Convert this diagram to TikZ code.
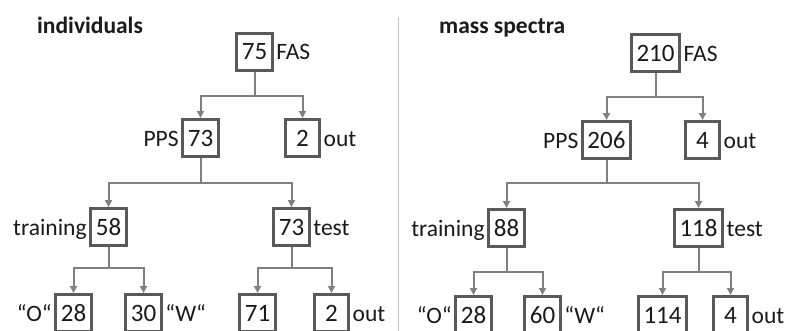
\documentclass[tikz,border=0pt]{standalone}
\usepackage{fontspec}
\setmainfont{Carlito}
\usetikzlibrary{arrows.meta}
\definecolor{boxgray}{HTML}{595959}
\definecolor{linegray}{HTML}{808080}
\definecolor{divgray}{HTML}{C4C4C4}
\definecolor{ink}{HTML}{1A1A1A}
\tikzset{
  x=1pt, y=-1pt,
  numbox/.style={draw=boxgray, line width=3pt, minimum height=37pt,
    minimum width=34pt, inner xsep=5pt, text=ink,
    font=\fontsize{25}{29}\selectfont},
  lbl/.style={inner sep=2.5pt, text=ink, font=\fontsize{23.5}{27}\selectfont},
  lblr/.style={lbl, anchor=base west},
  lbll/.style={lbl, anchor=base east},
  conn/.style={draw=linegray, line width=2pt,
    -{Triangle[width=7pt,length=7pt]}},
  stem/.style={draw=linegray, line width=2pt},
  divider/.style={draw=divgray, line width=1.5pt},
  heading/.style={anchor=base west, inner sep=0pt, text=ink,
    font=\fontsize{23.5}{27}\selectfont\bfseries}
}
\begin{document}
\begin{tikzpicture}
\useasboundingbox[fill=white] (0,0) rectangle (790,330);

% panel divider
\draw[divider] (398.5,17) -- (398.5,332);

% ---------- left panel: individuals ----------
\node[heading] (h1) at (37,33) {individuals};

\node[numbox] (fas1) at (254.5,52) {75};
\node[numbox] (pps1) at (200.5,138) {73};
\node[numbox] (out1) at (302.5,138) {2};
\node[numbox] (tr1)  at (108.5,227) {58};
\node[numbox] (te1)  at (291.5,227) {73};
\node[numbox] (o1)   at (73.5,313) {28};
\node[numbox] (w1)   at (143.5,313) {30};
\node[numbox] (a1)   at (257.5,313) {71};
\node[numbox] (b1)   at (331.5,313) {2};

\node[lblr] (fas1l) at (fas1.base east) {FAS};
\node[lbll] (pps1l) at (pps1.base west) {PPS};
\node[lblr] (out1l) at (out1.base east) {out};
\node[lbll] (tr1l)  at (tr1.base west) {training};
\node[lblr] (te1l)  at (te1.base east) {test};
\node[lbll] (o1l)   at (o1.base west) {“O“};
\node[lblr] (w1l)   at (w1.base east) {“W“};
\node[lblr] (b1l)   at (b1.base east) {out};

\coordinate (j1) at (fas1.south |- 0,96);
\coordinate (j2) at (pps1.south |- 0,183);
\coordinate (j3) at (tr1.south |- 0,268);
\coordinate (j4) at (te1.south |- 0,268);
\draw[stem] (fas1.south) -- (j1);
\draw[conn] (j1) -| (pps1.north);
\draw[conn] (j1) -| (out1.north);
\draw[stem] (pps1.south) -- (j2);
\draw[conn] (j2) -| (tr1.north);
\draw[conn] (j2) -| (te1.north);
\draw[stem] (tr1.south) -- (j3);
\draw[conn] (j3) -| (o1.north);
\draw[conn] (j3) -| (w1.north);
\draw[stem] (te1.south) -- (j4);
\draw[conn] (j4) -| (a1.north);
\draw[conn] (j4) -| (b1.north);

% ---------- right panel: mass spectra ----------
\node[heading] (h2) at (439,33) {mass spectra};

\node[numbox] (fas2) at (655.5,53) {210};
\node[numbox] (pps2) at (606.5,140) {206};
\node[numbox] (out2) at (702.5,140) {4};
\node[numbox] (tr2)  at (506.5,228) {88};
\node[numbox] (te2)  at (698.5,228) {118};
\node[numbox] (o2)   at (473.5,315) {28};
\node[numbox] (w2)   at (542.5,315) {60};
\node[numbox] (a2)   at (662.5,315) {114};
\node[numbox] (b2)   at (730.5,315) {4};

\node[lblr] (fas2l) at (fas2.base east) {FAS};
\node[lbll] (pps2l) at (pps2.base west) {PPS};
\node[lblr] (out2l) at (out2.base east) {out};
\node[lbll] (tr2l)  at (tr2.base west) {training};
\node[lblr] (te2l)  at (te2.base east) {test};
\node[lbll] (o2l)   at (o2.base west) {“O“};
\node[lblr] (w2l)   at (w2.base east) {“W“};
\node[lblr] (b2l)   at (b2.base east) {out};

\coordinate (k1) at (fas2.south |- 0,97);
\coordinate (k2) at (pps2.south |- 0,183);
\coordinate (k3) at (tr2.south |- 0,272);
\coordinate (k4) at (te2.south |- 0,272);
\draw[stem] (fas2.south) -- (k1);
\draw[conn] (k1) -| (pps2.north);
\draw[conn] (k1) -| (out2.north);
\draw[stem] (pps2.south) -- (k2);
\draw[conn] (k2) -| (tr2.north);
\draw[conn] (k2) -| (te2.north);
\draw[stem] (tr2.south) -- (k3);
\draw[conn] (k3) -| (o2.north);
\draw[conn] (k3) -| (w2.north);
\draw[stem] (te2.south) -- (k4);
\draw[conn] (k4) -| (a2.north);
\draw[conn] (k4) -| (b2.north);
\end{tikzpicture}
\end{document}
